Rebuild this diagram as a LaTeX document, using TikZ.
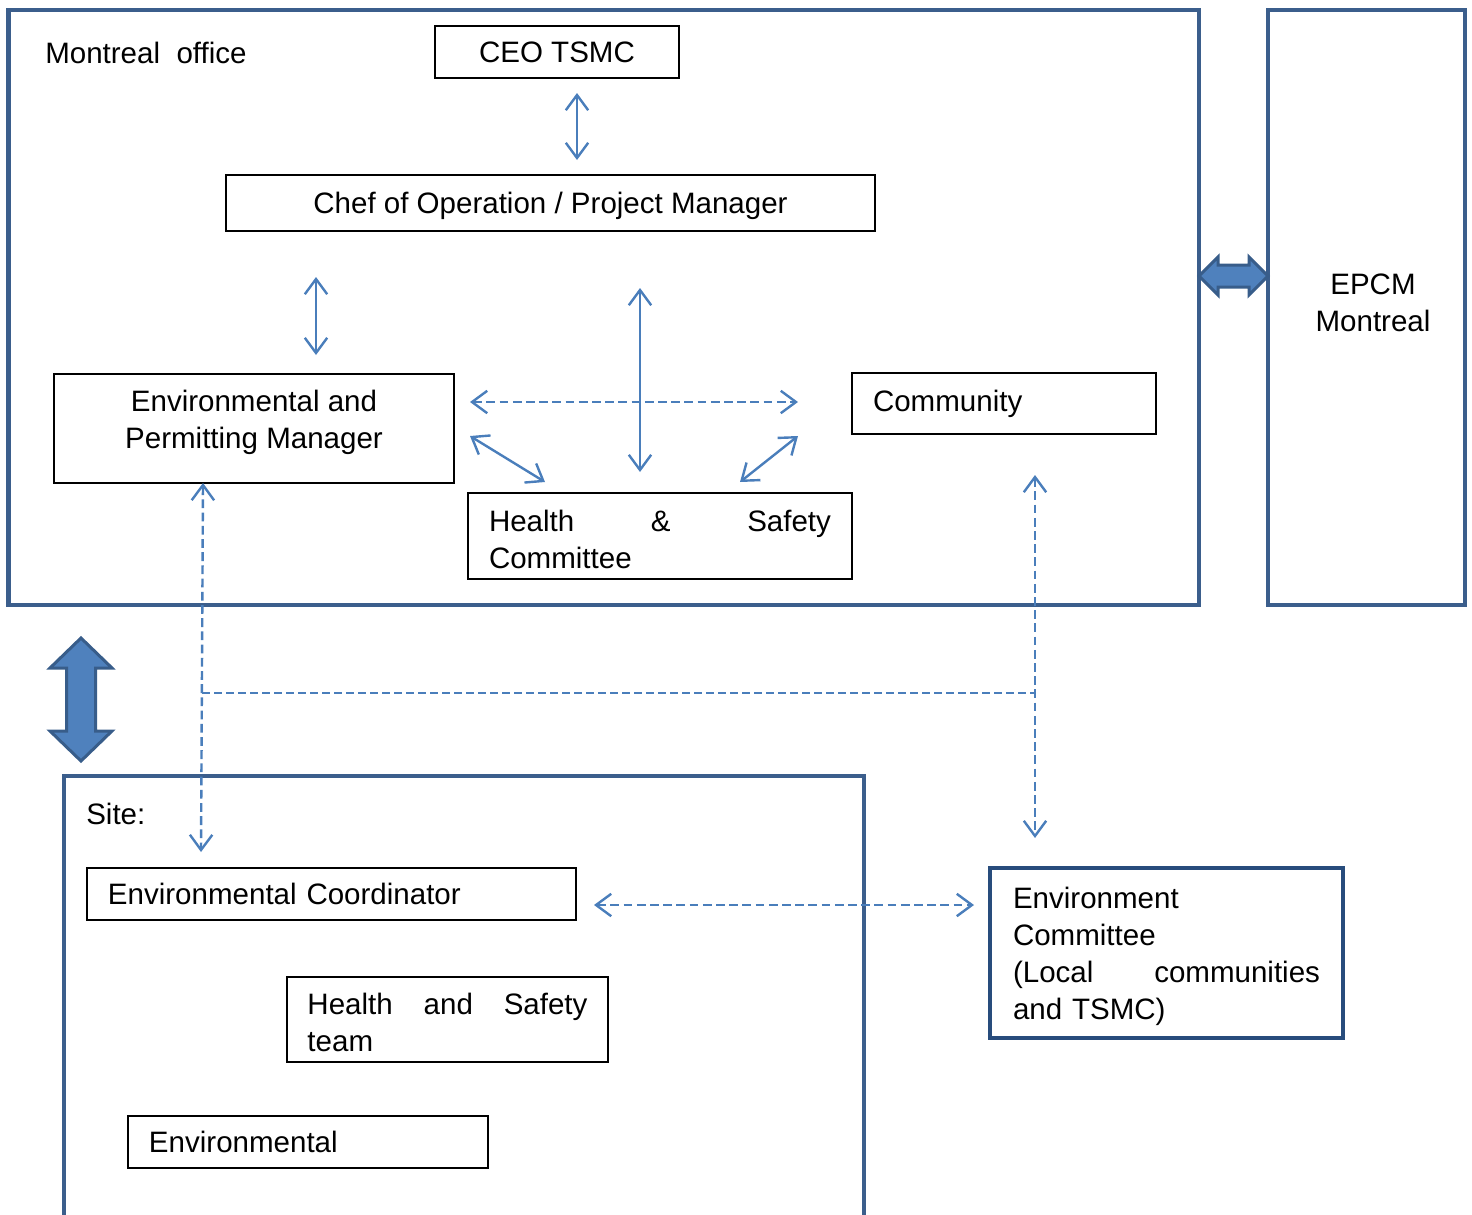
\documentclass[tikz,border=0pt]{standalone}
\usepackage{fontspec}
\setmainfont{Liberation Sans}
\usepackage{xcolor}
\usepackage{tikz}
\usetikzlibrary{arrows.meta, positioning, calc}

\definecolor{framecol}{HTML}{3B5E8C}
\definecolor{linkcol}{HTML}{4A7EBB}
\definecolor{bigfill}{HTML}{4F81BD}
\definecolor{bigedge}{HTML}{385D8A}
\definecolor{navycol}{HTML}{284C7C}

\newcommand{\lbfont}{\fontsize{21}{26.4}\selectfont}
\newcommand{\gap}{\hskip 0pt plus 1fill\relax}

\begin{document}
\begin{tikzpicture}[
  x=0.25mm, y=-0.25mm,
  >={Straight Barb[length=3.8mm, width=5.6mm]},
  frame/.style={draw=framecol, line width=1.15mm, inner sep=0pt, outer sep=0pt},
  box/.style={draw=black, line width=0.5mm, inner sep=0pt, outer sep=0pt,
              align=center, font=\lbfont},
  lbox/.style={box, align=left, inner xsep=5.25mm},
  mbox/.style={lbox, text height=20pt},
  txt/.style={inner sep=0pt, align=center, font=\lbfont},
  arr/.style={<->, linkcol, line width=0.6mm},
  darr/.style={arr, dash pattern=on 2.2mm off 1.1mm},
  jline/.style={linkcol, line width=0.4mm, dash pattern=on 2mm off 1mm},
  bigarrow/.style={fill=bigfill, draw=bigedge, line width=0.75mm, line join=miter}
]
\useasboundingbox (0,0) rectangle (1472,1214);

% frames
\node[frame, minimum width=297.6mm, minimum height=148.75mm] (mtl) at (603.75,307.5) {};
\node[frame, minimum width=49.25mm, minimum height=148.75mm] (epcm) at (1366.5,307.5) {};
\node[frame, minimum width=200mm, minimum height=116mm] (site) at (464,1008) {};
\node[txt, anchor=west] (mtltxt) at (45,53) {Montreal~~office};
\node[txt] (epcmtxt) at (1373,303) {EPCM\\Montreal};
\node[txt, anchor=west] (sitetxt) at (86,814) {Site:};

% Montreal office
\node[box, minimum width=61mm, minimum height=13mm] (ceo) at (557,52) {CEO TSMC};
\node[box, text depth=0pt, minimum width=162.25mm, minimum height=14mm] (chef) at (550.5,203) {Chef of Operation / Project Manager};
\node[box, minimum width=100mm, minimum height=27.25mm] (envm) at (254,428.5) {};
\node[txt] (envmtxt) at (254,422.5) {Environmental and\\Permitting Manager};
\node[lbox, text width=65.5mm, minimum height=15.25mm] (comm) at (1004,403.5) {Community};
\node[mbox, text width=85.5mm, minimum height=21.5mm] (hsc) at (660,536) {Health\gap\&\gap Safety\\Committee};

% site
\node[lbox, text width=111.75mm, minimum height=13mm] (envc) at (331.5,894) {Environmental Coordinator};
\node[mbox, text width=70mm, inner xsep=5mm, minimum height=21.25mm] (hst) at (447.5,1019.5) {Health\gap and\gap Safety\\team};
\node[lbox, text width=79.5mm, minimum height=13mm] (envl) at (308,1142) {Environmental};
\node[mbox, draw=navycol, line width=1.2mm, text width=76.75mm, inner xsep=5.75mm,
      minimum height=42.5mm] (envcom) at (1166.5,953) {Environment\\Committee\\(Local\gap communities\\and TSMC)};

% links
\draw[arr] ($(ceo.south)+(20,15)$) -- ($(chef.north)+(26.5,-15)$);
\draw[arr] ($(chef.south)+(-234.5,46)$) -- ($(envm.north)+(62,-19)$);
\draw[arr] ($(chef.south)+(89.5,57)$) -- ($(hsc.north)+(-20,-21)$);
\draw[darr] ($(envm.east)+(16,-26.5)$) -- ($(comm.west)+(-54,-1.5)$);
\draw[arr] ($(envm.east)+(16,7.5)$) -- ($(hsc.north west)+(77,-11)$);
\draw[arr] ($(comm.west)+(-54,32.5)$) -- ($(hsc.north)+(80,-11)$);
\draw[darr] ($(envm.south)+(-51,0)$) -- ($(envc.north)+(-130.5,-16)$);
\draw[darr] ($(comm.south)+(31,41)$) -- ($(envcom.north)+(-131.5,-30)$);
\draw[darr] ($(envc.east)+(18,11)$) -- ($(envcom.west)+(-16,-48)$);
\coordinate (jl) at (202,693);
\coordinate (jr) at (1035,693);
\draw[jline] (jl) -- (jr);

% big arrows
\draw[bigarrow] (1199,276) -- (1218,257) -- (1218,265) -- (1249,265) -- (1249,257)
  -- (1268,276) -- (1249,295) -- (1249,287) -- (1218,287) -- (1218,295) -- cycle;
\draw[bigarrow] (81,638) -- (112,668) -- (95.5,668) -- (95.5,731) -- (112,731)
  -- (81,761) -- (50,731) -- (66.5,731) -- (66.5,668) -- (50,668) -- cycle;
\end{tikzpicture}
\end{document}
